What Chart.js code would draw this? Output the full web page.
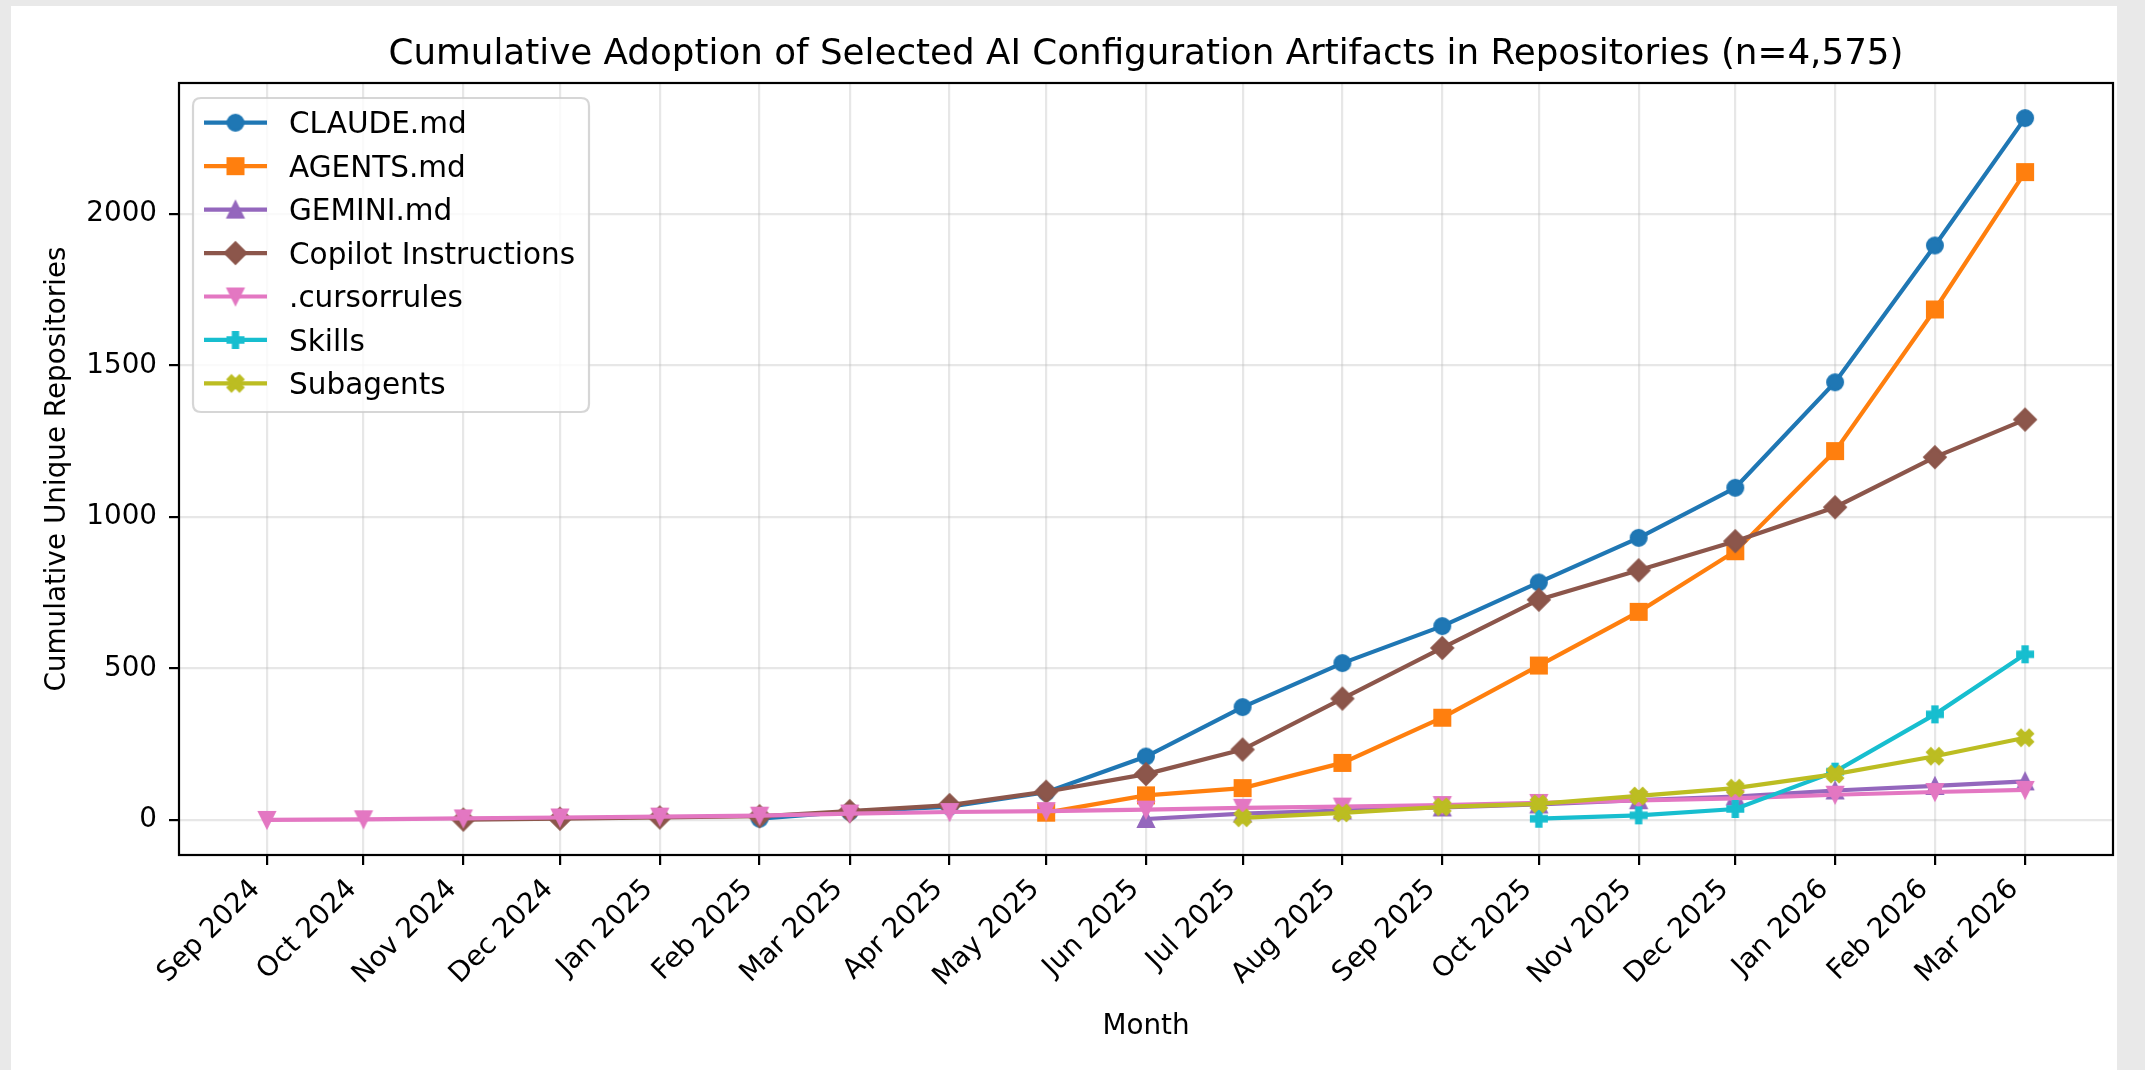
<!DOCTYPE html>
<html><head><meta charset="utf-8">
<script src="https://cdn.jsdelivr.net/npm/chart.js@4.4.1/dist/chart.umd.min.js"></script>
<style>
html,body{margin:0;padding:0;background:#e9e9e9;overflow:hidden;}
#panel{position:absolute;left:11px;top:6px;width:2106px;height:1064px;background:#fff;}
#wrap{position:absolute;left:0;top:0;width:2145px;height:1070px;}
</style></head><body>
<div id="panel"></div>
<div id="wrap"><canvas id="c" width="2145" height="1070"></canvas></div>
<script>
// ---------- DATA ----------
const months = ['Sep 2024','Oct 2024','Nov 2024','Dec 2024','Jan 2025','Feb 2025','Mar 2025','Apr 2025','May 2025','Jun 2025','Jul 2025','Aug 2025','Sep 2025','Oct 2025','Nov 2025','Dec 2025','Jan 2026','Feb 2026','Mar 2026'];
const seriesNames = ['CLAUDE.md','AGENTS.md','GEMINI.md','Copilot Instructions','.cursorrules','Skills','Subagents'];
const claudeMd    = [null,null,null,null,null,5,28,45,92,210,373,518,640,784,931,1096,1444,1895,2315];
const agentsMd    = [null,null,null,null,null,null,null,null,25,82,106,189,338,510,687,887,1217,1684,2137];
const geminiMd    = [null,null,null,null,null,null,null,null,null,4,22,32,42,52,66,78,98,113,128];
const copilotInstr= [null,null,2,5,9,13,30,50,94,152,233,401,568,727,824,920,1032,1197,1321];
const cursorrules = [1,3,6,9,12,15,22,27,30,35,41,45,50,57,65,72,84,93,100];
const skills      = [null,null,null,null,null,null,null,null,null,null,null,null,null,5,16,37,160,349,547];
const subagents   = [null,null,null,null,null,null,null,null,null,null,8,24,44,54,80,106,152,211,272];
const yTickValues = [0,500,1000,1500,2000];
const titleText = 'Cumulative Adoption of Selected AI Configuration Artifacts in Repositories (n=4,575)';
const xTitle = 'Month';
const yTitle = 'Cumulative Unique Repositories';

// ---------- STYLE ----------
const colors  = ['#1f77b4','#ff7f0e','#9467bd','#8c564b','#e377c2','#17becf','#bcbd22'];
const markers = ['o','s','^','D','v','P','X'];
const FONT = "'DejaVu Sans', 'Liberation Sans', sans-serif";
const TITLE_SIZE = 35.7, LEGEND_SIZE = 29.5, TICK_SIZE = 27.8;
Chart.defaults.font.family = FONT;
Chart.defaults.color = '#000';

const MON = {Jan:0,Feb:1,Mar:2,Apr:3,May:4,Jun:5,Jul:6,Aug:7,Sep:8,Oct:9,Nov:10,Dec:11};
function monthToDay(s){ const [m,y] = s.split(' '); return Date.UTC(+y, MON[m], 1)/86400000; }
const xs = months.map(monthToDay);
const xRange = xs[xs.length-1]-xs[0];
const xMin = xs[0]-0.05*xRange, xMax = xs[xs.length-1]+0.05*xRange;
const allSeries = [claudeMd,agentsMd,geminiMd,copilotInstr,cursorrules,skills,subagents];
const allVals = allSeries.flat().filter(v=>v!=null);
const dMin = Math.min(...allVals), dMax = Math.max(...allVals);
const yMin = dMin-0.05*(dMax-dMin), yMax = dMax+0.05*(dMax-dMin);

function markerPath(g, kind, m){
  g.beginPath();
  const h = m/2;
  const poly = pts => { g.moveTo(pts[0][0],pts[0][1]); for(let i=1;i<pts.length;i++) g.lineTo(pts[i][0],pts[i][1]); g.closePath(); };
  switch(kind){
    case 'o': g.arc(0,0,h,0,Math.PI*2); break;
    case 's': g.rect(-h,-h,m,m); break;
    case '^': poly([[0,-h],[-h,h],[h,h]]); break;
    case 'v': poly([[0,h],[-h,-h],[h,-h]]); break;
    case 'D': { const d=m*0.68; poly([[0,-d],[d,0],[0,d],[-d,0]]); break; }
    case 'P': poly([[-1,-3],[1,-3],[1,-1],[3,-1],[3,1],[1,1],[1,3],[-1,3],[-1,1],[-3,1],[-3,-1],[-1,-1]].map(p=>[p[0]*m/6,p[1]*m/6])); break;
    case 'X': poly([[-1,-2],[0,-1],[1,-2],[2,-1],[1,0],[2,1],[1,2],[0,1],[-1,2],[-2,1],[-1,0],[-2,-1]].map(p=>[p[0]*m/4,p[1]*m/4])); break;
  }
}
function makeMarker(kind, color){
  const S = 30; const c = document.createElement('canvas'); c.width=S; c.height=S;
  const g = c.getContext('2d'); g.translate(S/2,S/2);
  g.fillStyle=color; g.strokeStyle=color; g.lineWidth=2; g.lineJoin='miter';
  markerPath(g, kind, 16);
  g.fill(); g.stroke();
  return c;
}
const markerImgs = markers.map((k,i)=>makeMarker(k, colors[i]));

function toPoints(vals){ return vals.map((v,i)=> v==null?null:{x:xs[i], y:v}).filter(p=>p); }

const datasets = allSeries.map((vals,i)=>({
  label: seriesNames[i],
  data: toPoints(vals),
  borderColor: colors[i],
  backgroundColor: colors[i],
  borderWidth: 4.2,
  pointStyle: markerImgs[i],
  pointRadius: 9,
  pointHoverRadius: 9,
  tension: 0,
  order: allSeries.length - i
}));

// ---------- PLUGINS: frame + matplotlib-style legend ----------
const CA = {left:179, right:2113, top:83, bottom:855};
const mplPlugin = {
  id:'mpl',
  afterDatasetsDraw(chart){
    const ctx = chart.ctx, a = chart.chartArea;
    ctx.save();
    ctx.strokeStyle='#000'; ctx.lineWidth=2.2;
    ctx.strokeRect(a.left, a.top, a.right-a.left, a.bottom-a.top);
    // legend
    const bx=193, by=98, bw=396, bh=314, r=8;
    ctx.beginPath();
    ctx.moveTo(bx+r,by); ctx.lineTo(bx+bw-r,by); ctx.quadraticCurveTo(bx+bw,by,bx+bw,by+r);
    ctx.lineTo(bx+bw,by+bh-r); ctx.quadraticCurveTo(bx+bw,by+bh,bx+bw-r,by+bh);
    ctx.lineTo(bx+r,by+bh); ctx.quadraticCurveTo(bx,by+bh,bx,by+bh-r);
    ctx.lineTo(bx,by+r); ctx.quadraticCurveTo(bx,by,bx+r,by); ctx.closePath();
    ctx.fillStyle='rgba(255,255,255,0.8)'; ctx.fill();
    ctx.strokeStyle='rgba(204,204,204,0.8)'; ctx.lineWidth=2.2; ctx.stroke();
    ctx.font = LEGEND_SIZE + 'px ' + FONT;
    ctx.textAlign='left'; ctx.textBaseline='alphabetic';
    chart.data.datasets.forEach((ds,i)=>{
      const y = 122.7 + i*43.45;
      ctx.strokeStyle = ds.borderColor; ctx.lineWidth = 4.2;
      ctx.beginPath(); ctx.moveTo(204,y); ctx.lineTo(267,y); ctx.stroke();
      const img = ds.pointStyle;
      ctx.drawImage(img, 235.5-img.width/2, y-img.height/2);
      ctx.fillStyle='#000';
      ctx.fillText(ds.label, 289, y+0.365*LEGEND_SIZE);
    });
    ctx.restore();
  }
};

new Chart(document.getElementById('c'), {
  type:'line',
  data:{datasets},
  options:{
    responsive:false, animation:false, events:[], devicePixelRatio:1,
    layout:{padding:{left:0,right:2145-CA.right,top:0,bottom:0}},
    plugins:{
      legend:{display:false},
      tooltip:{enabled:false},
      title:{display:true, text:titleText, color:'#000', fullSize:false,
             font:{size:TITLE_SIZE, weight:'normal', family:FONT, lineHeight:1.2},
             padding:{top:55-TITLE_SIZE*0.6, bottom:CA.top-55-TITLE_SIZE*0.6}}
    },
    scales:{
      x:{
        type:'linear', min:xMin, max:xMax,
        afterBuildTicks: s => { s.ticks = xs.map(v=>({value:v})); },
        afterFit: s => { s.height = 1070 - CA.bottom; },
        border:{display:false},
        grid:{color:'rgba(176,176,176,0.3)', lineWidth:2.2, drawTicks:true, tickLength:10, tickColor:'#000', tickWidth:2.2},
        ticks:{autoSkip:false, maxRotation:45, minRotation:45, padding:8, labelOffset:-11,
               font:{size:TICK_SIZE, family:FONT}, color:'#000',
               callback: v => { const i = xs.indexOf(v); return i>=0 ? months[i] : ''; }},
        title:{display:true, text:xTitle, color:'#000', font:{size:TICK_SIZE, family:FONT}, padding:{top:0,bottom:27}}
      },
      y:{
        type:'linear', min:yMin, max:yMax,
        afterBuildTicks: s => { s.ticks = yTickValues.map(v=>({value:v})); },
        afterFit: s => { s.width = CA.left; },
        border:{display:false},
        grid:{color:'rgba(176,176,176,0.3)', lineWidth:2.2, drawTicks:true, tickLength:10, tickColor:'#000', tickWidth:2.2},
        ticks:{padding:12, font:{size:TICK_SIZE, family:FONT}, color:'#000', callback: v => String(v)},
        title:{display:true, text:yTitle, color:'#000', font:{size:TICK_SIZE, family:FONT}, padding:{top:41,bottom:0}}
      }
    }
  },
  plugins:[mplPlugin]
});
</script>
</body></html>
